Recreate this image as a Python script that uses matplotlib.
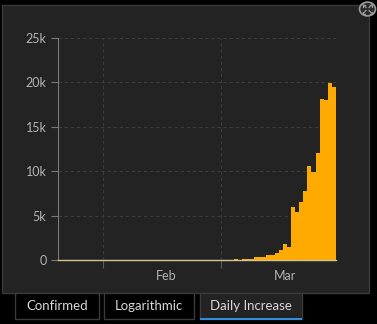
import datetime as dt
import matplotlib
matplotlib.use('Agg')
import matplotlib.pyplot as plt
from matplotlib.patches import Rectangle, Circle
from matplotlib.lines import Line2D

# Daily increase values (first bar = 4 Mar)
first_day = dt.datetime(2020, 3, 4)
daily_increase = [180, 70, 200, 200, 200, 400, 400, 400, 600, 600, 850, 1200, 1800,
                  1450, 6000, 5450, 6500, 7800, 10600, 9950, 12050, 18100, 17950,
                  19950, 19450]
dates = [first_day + dt.timedelta(days=i) for i in range(len(daily_increase))]

y_ticks = [0, 5000, 10000, 15000, 20000, 25000]
y_labels = ['0', '5k', '10k', '15k', '20k', '25k']
month_starts = [dt.datetime(2020, 2, 1), dt.datetime(2020, 3, 1)]
month_labels = ['Feb', 'Mar']
tabs = ['Confirmed', 'Logarithmic', 'Daily Increase']

plt.rcParams['font.family'] = ['Lato', 'DejaVu Sans']

fig = plt.figure(figsize=(3.77, 3.24), dpi=100)
fig.patch.set_facecolor('black')
W, H = 377, 324

def box(x0, y0, x1, y1, **kw):
    # pixel coords, y from top
    return Rectangle((x0 / W, 1 - y1 / H), (x1 - x0) / W, (y1 - y0) / H,
                     transform=fig.transFigure, **kw)

# panel (behind the axes)
fig.patches.append(box(2, 5, 368.5, 292.5, facecolor='#232323', edgecolor='#3a3a3a',
                       lw=1, zorder=-5))

# tabs
tab_x = [(14.7, 98.7), (104.3, 194.3), (200, 302.3)]
for i, (name, (x0, x1)) in enumerate(zip(tabs, tab_x)):
    active = i == 2
    fig.patches.append(box(x0, 292.5, x1, 319, facecolor='#232323' if active else '#000000',
                           edgecolor='#3a3a3a', lw=1, zorder=-4))
    fig.text((x0 + x1) / 2 / W, 1 - 306 / H, name, color='#d8d8d8', fontsize=9.5,
             ha='center', va='center')
fig.patches.append(box(200, 317.5, 302.3, 319.5, facecolor='#2f8ee0', edgecolor='none', zorder=-3))

# expand icon
fig.patches.append(Circle((367.5 / W, 1 - 9 / H), 8 / W, transform=fig.transFigure,
                          facecolor='#2a2a2a', edgecolor='#9a9a9a', lw=1.2, zorder=5))
for dx, dy in [(-1, 1), (1, 1), (-1, -1), (1, -1)]:
    x_in, x_out = 367.5 + dx * 1.5, 367.5 + dx * 4.5
    y_in, y_out = 9 - dy * 1.5, 9 - dy * 4.5
    fig.lines.append(Line2D([x_in / W, x_out / W], [1 - y_in / H, 1 - y_out / H],
                            transform=fig.transFigure, color='#9a9a9a', lw=0.9, zorder=6))
    # arrow heads
    fig.lines.append(Line2D([x_out / W, (x_out - dx * 2) / W], [1 - y_out / H, 1 - y_out / H],
                            transform=fig.transFigure, color='#9a9a9a', lw=0.9, zorder=6))
    fig.lines.append(Line2D([x_out / W, x_out / W], [1 - y_out / H, 1 - (y_out + dy * 2) / H],
                            transform=fig.transFigure, color='#9a9a9a', lw=0.9, zorder=6))

ax = fig.add_axes([57.5 / W, 1 - 260.3 / H, (336 - 57.5) / W, (260.3 - 37.7) / H])
ax.set_facecolor('none')
ax.bar(dates, daily_increase, width=1.0, align='edge', color='#ffaa00', linewidth=0)

ax.set_xlim(dt.datetime(2020, 1, 21), dt.datetime(2020, 3, 29))
ax.set_ylim(0, 25000)
ax.set_yticks(y_ticks)
ax.set_yticklabels(y_labels)
ax.set_xticks(month_starts)
ax.set_xticklabels(['', ''])
ax.set_xticks([m + dt.timedelta(days=15.5) for m in month_starts], minor=True)
ax.set_xticklabels(month_labels, minor=True)

ax.grid(True, which='major', color='#3c3c3c', linestyle=(0, (3, 2.5)), lw=0.8)
ax.set_axisbelow(True)
ax.tick_params(axis='y', colors='#7a7a7a', labelcolor='#b4b4b4', labelsize=9, length=5, pad=3)
ax.tick_params(axis='x', which='major', colors='#5a5a5a', length=6, width=0.8)
ax.tick_params(axis='x', which='minor', length=0, labelcolor='#b4b4b4', labelsize=9, pad=7)

for s in ['top', 'right']:
    ax.spines[s].set_visible(False)
ax.spines['left'].set_color('#7a7a7a')
ax.spines['left'].set_linewidth(0.8)
ax.spines['bottom'].set_color('#d6c48f')
ax.spines['bottom'].set_linewidth(1.0)

fig.savefig('out.png', dpi=100, facecolor=fig.get_facecolor())
